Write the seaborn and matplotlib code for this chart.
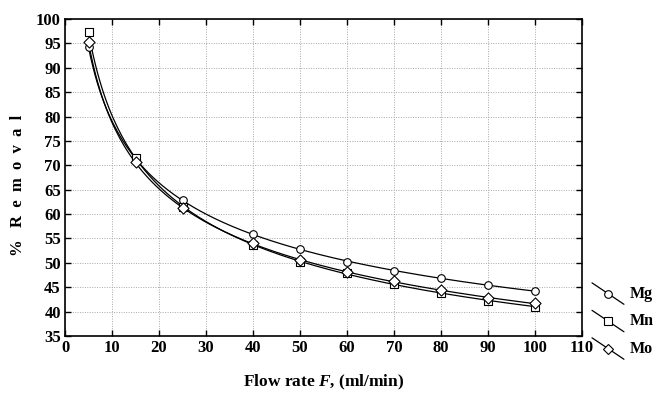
import numpy as np
import pandas as pd
import matplotlib
matplotlib.use("Agg")
import matplotlib.pyplot as plt
import seaborn as sns
from matplotlib.lines import Line2D
from matplotlib.legend_handler import HandlerBase

# data
flow = [5, 15, 25, 40, 50, 60, 70, 80, 90, 100]
mg = [94.2, 71.3, 62.9, 55.9, 52.8, 50.2, 48.4, 46.8, 45.5, 44.2]
mn = [97.3, 71.6, 61.5, 53.7, 50.2, 47.9, 45.7, 43.8, 42.2, 41.0]
mo = [95.2, 70.6, 61.2, 54.0, 50.5, 48.2, 46.3, 44.4, 42.7, 41.7]
series = {"Mg": (mg, "o"), "Mn": (mn, "s"), "Mo": (mo, "D")}

x_ticks = list(range(0, 111, 10))
y_ticks = list(range(35, 101, 5))

sns.set_theme(style="ticks")
plt.rcParams.update({
    "font.family": ["Liberation Serif", "DejaVu Serif"],
    "font.weight": "bold",
    "text.color": "black",
    "axes.labelcolor": "black",
    "mathtext.fontset": "custom",
    "mathtext.it": "Liberation Serif:italic:bold",
    "mathtext.rm": "Liberation Serif:bold",
})


class DiagonalHandler(HandlerBase):
    # Statistica-style slanted legend key
    def create_artists(self, legend, orig_handle, xdescent, ydescent,
                       width, height, fontsize, trans):
        x0, x1 = -xdescent, width - xdescent
        y0, y1 = height * 1.15 - ydescent, -height * 0.35 - ydescent
        ln = Line2D([x0, x1], [y0, y1], color="black", lw=0.9)
        mk = Line2D([(x0 + x1) / 2], [(y0 + y1) / 2], marker=orig_handle.get_marker(),
                    ms=orig_handle.get_markersize(), mfc="white", mec="black",
                    mew=0.8, ls="none")
        for a in (ln, mk):
            a.set_transform(trans)
        return [ln, mk]


fig = plt.figure(figsize=(6.7, 3.95), dpi=100)
ax = fig.add_axes([65 / 670, 1 - 336 / 395, (582 - 65) / 670, (336 - 19) / 395])

handles = []
for name, (vals, mk) in series.items():
    df = pd.DataFrame({"flow": flow, "removal": vals})
    # smooth trend: cubic fit in log(flow), like the original's smoother
    coef = np.polyfit(np.log(df["flow"]), df["removal"], 3)
    xs = np.linspace(min(flow), max(flow), 200)
    fit = pd.DataFrame({"flow": xs, "removal": np.polyval(coef, np.log(xs))})
    sns.lineplot(data=fit, x="flow", y="removal", color="black", lw=0.9, ax=ax)
    sz = 32 if mk == "D" else 30
    sns.scatterplot(data=df, x="flow", y="removal", marker=mk, s=sz,
                    facecolor="white", edgecolor="black", linewidth=0.8,
                    ax=ax, zorder=3, legend=False)
    handles.append(Line2D([], [], marker=mk, ms=5.5 if mk != "D" else 5, ls="-",
                          color="black", mfc="white", label=name))

ax.set_xlim(0, 110)
ax.set_ylim(35, 100)
ax.set_xticks(x_ticks)
ax.set_yticks(y_ticks)
ax.grid(True, color="#a8a8a8", linestyle=(0, (1, 1.5)), linewidth=0.7)
ax.tick_params(direction="in", length=4, width=1, top=True, right=True,
               labelsize=12, pad=3, colors="black")
for lab in ax.get_xticklabels() + ax.get_yticklabels():
    lab.set_fontweight("bold")
for sp in ax.spines.values():
    sp.set_visible(True)
    sp.set_linewidth(1.2)
    sp.set_color("black")

ax.set_xlabel("Flow rate $F$, (ml/min)", fontsize=12.5, fontweight="bold",
              color="black", labelpad=12)
ax.set_ylabel("%   R  e  m  o  v  a  l", fontsize=12, fontweight="bold",
              color="black")
ax.yaxis.set_label_coords(-0.076, 0.476)

fig.legend(handles=handles, handler_map={Line2D: DiagonalHandler()},
           loc="upper left", bbox_to_anchor=(592 / 670, 1 - 285 / 395),
           frameon=False, handlelength=2.0, handleheight=1.0,
           labelspacing=0.68, handletextpad=0.35, borderpad=0, borderaxespad=0,
           prop={"weight": "bold", "size": 11.5})

fig.savefig("out.png", dpi=100)
